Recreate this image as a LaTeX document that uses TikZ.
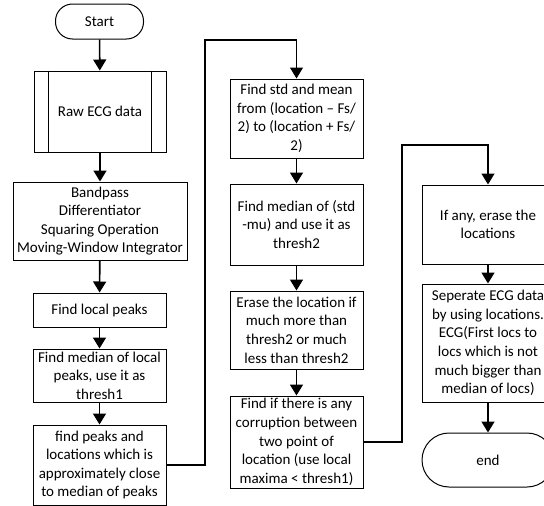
\documentclass[tikz,border=0pt]{standalone}
\usepackage{fontspec}
\setmainfont{Carlito}
\usetikzlibrary{arrows.meta}
\begin{document}
\begin{tikzpicture}[x=1pt,y=-1pt,
  every node/.style={font=\fontsize{15}{18.6}\selectfont, align=center, inner sep=2pt},
  proc/.style={draw, line width=1pt, minimum width=133pt},
  term/.style={draw, line width=1pt, rounded corners=#1},
  flow/.style={line width=1.6pt, -{Triangle[length=11pt,width=13pt]}},
  link/.style={line width=1.2pt, -{Triangle[length=11pt,width=13pt]}}]
\useasboundingbox (0,0) rectangle (544,506);

% first column
\node[term=17pt, minimum width=88pt, minimum height=35pt] (start) at (99.5,21.5) {Start};
\node[proc, minimum width=132pt, minimum height=81pt] (raw) at (100,111.5) {Raw ECG data};
\draw[line width=1pt] ([xshift=15pt]raw.north west) -- ([xshift=15pt]raw.south west);
\draw[line width=1pt] ([xshift=-15pt]raw.north east) -- ([xshift=-15pt]raw.south east);
\node[proc, minimum width=174pt, minimum height=78pt] (filt) at (100,221)
  {Bandpass\\Differentiator\\Squaring Operation\\Moving-Window Integrator};
\node[proc, minimum height=34pt] (peaks) at (99.5,310) {Find local peaks};
\node[proc, minimum height=53pt] (med1) at (99.5,375.5) {Find median of local\\peaks, use it as\\thresh1};
\node[proc, minimum height=80pt] (find) at (99.5,465) {find peaks and\\locations which is\\approximately close\\to median of peaks};

% second column
\node[proc, minimum height=79pt] (stdm) at (296.5,118.5) {Find std and mean\\from (location – Fs/\\2) to (location + Fs/\\2)};
\node[proc, minimum height=81pt] (med2) at (296.5,224.5) {Find median of (std\\-mu) and use it as\\thresh2};
\node[proc, minimum height=78pt] (erase) at (296.5,330) {Erase the location if\\much more than\\thresh2 or much\\less than thresh2};
\node[proc, minimum height=92pt] (corr) at (296.5,442) {Find if there is any\\corruption between\\two point of\\location (use local\\maxima < thresh1)};

% third column
\node[proc, minimum width=132pt, minimum height=79pt] (erase2) at (488,224.5) {If any, erase the\\locations};
\node[proc, minimum width=132pt, minimum height=118pt] (sep) at (488,343) {Seperate ECG data\\by using locations.\\ECG(First locs to\\locs which is not\\much bigger than\\median of locs)};
\node[term=27pt, minimum width=132pt, minimum height=54pt] (stop) at (488,460) {end};

% connectors
\draw[flow] (start) -- (raw);
\draw[flow] (raw) -- (filt);
\draw[flow] (filt) -- (peaks);
\draw[flow] (peaks) -- (med1);
\draw[flow] (med1) -- (find);
\draw[flow] (stdm) -- (med2);
\draw[flow] (med2) -- (erase);
\draw[flow] (erase) -- (corr);
\draw[flow] (erase2) -- (sep);
\draw[flow] (sep) -- (stop);

\coordinate (r1) at (205,40);
\coordinate (r2) at (402,145);
\draw[link] (find.east) -| (r1) -| (stdm.north);
\draw[link] (corr.east) -| (r2) -| (erase2.north);
\end{tikzpicture}
\end{document}
